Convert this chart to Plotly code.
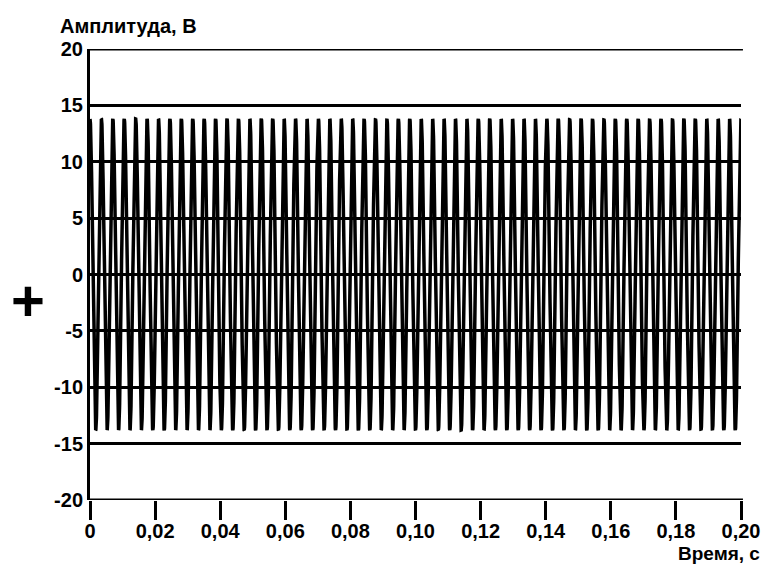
import numpy as np
import plotly.graph_objects as go

# Signal parameters
amplitude_v = 13.8          # peak value, V
frequency_hz = 285          # ~57 periods in 0.2 s
t_start, t_end = 0.0, 0.20

x_tick_vals = [0, 0.02, 0.04, 0.06, 0.08, 0.10, 0.12, 0.14, 0.16, 0.18, 0.20]
x_tick_text = ["0", "0,02", "0,04", "0,06", "0,08", "0,10", "0,12", "0,14", "0,16", "0,18", "0,20"]
y_tick_vals = [20, 15, 10, 5, 0, -5, -10, -15, -20]
y_tick_text = ["20", "15", "10", "5", "0", "-5", "-10", "-15", "-20"]

t = np.linspace(t_start, t_end, 8001)
u = amplitude_v * np.cos(2 * np.pi * frequency_hz * t)

fig = go.Figure()
fig.add_trace(go.Scatter(x=t, y=u, mode="lines",
                         line=dict(color="black", width=3.5), hoverinfo="skip",
                         showlegend=False))

FAM = "Liberation Sans, Arial, sans-serif"
font = dict(family=FAM, size=20, color="black", weight="bold")
ytitle_font = dict(family=FAM, size=20, color="black", weight="bold")
xtitle_font = dict(family=FAM, size=19, color="black", weight="bold")

fig.update_layout(
    width=771, height=571,
    margin=dict(l=82, r=38, t=41, b=79),
    paper_bgcolor="white", plot_bgcolor="white",
    font=font,
    xaxis=dict(range=[t_start, t_end], tickvals=x_tick_vals, ticktext=x_tick_text,
               showgrid=False, zeroline=False, showline=False,
               ticks="outside", ticklen=19, tickwidth=2.5, tickcolor="black",
               tickfont=font, ticklabelstandoff=-6),
    yaxis=dict(range=[-20, 20], tickvals=y_tick_vals, ticktext=y_tick_text,
               showgrid=True, gridcolor="black", gridwidth=3,
               zeroline=True, zerolinecolor="black", zerolinewidth=3,
               showline=True, linecolor="black", linewidth=3,
               ticks="", tickfont=font),
    shapes=[
        dict(type="line", xref="paper", yref="y", x0=0, x1=1.003, y0=20, y1=20,
             line=dict(color="black", width=3)),
        dict(type="line", xref="paper", yref="y", x0=0, x1=1.003, y0=-20, y1=-20,
             line=dict(color="black", width=3)),
    ],
    annotations=[
        dict(text="Амплитуда, В", xref="paper", yref="paper", x=0, y=1.0,
             xanchor="left", yanchor="middle", xshift=-32, yshift=23, showarrow=False,
             font=ytitle_font),
        dict(text="Время, с", xref="paper", yref="paper", x=1.032, y=0,
             xanchor="right", yanchor="middle", yshift=-53, showarrow=False,
             font=xtitle_font),
        dict(text="<b>+</b>", xref="paper", yref="paper", x=-0.095, y=0.443,
             xanchor="center", yanchor="middle", showarrow=False,
             font=dict(family=FAM, size=58, color="black")),
    ],
)

fig.write_html("out.html")
